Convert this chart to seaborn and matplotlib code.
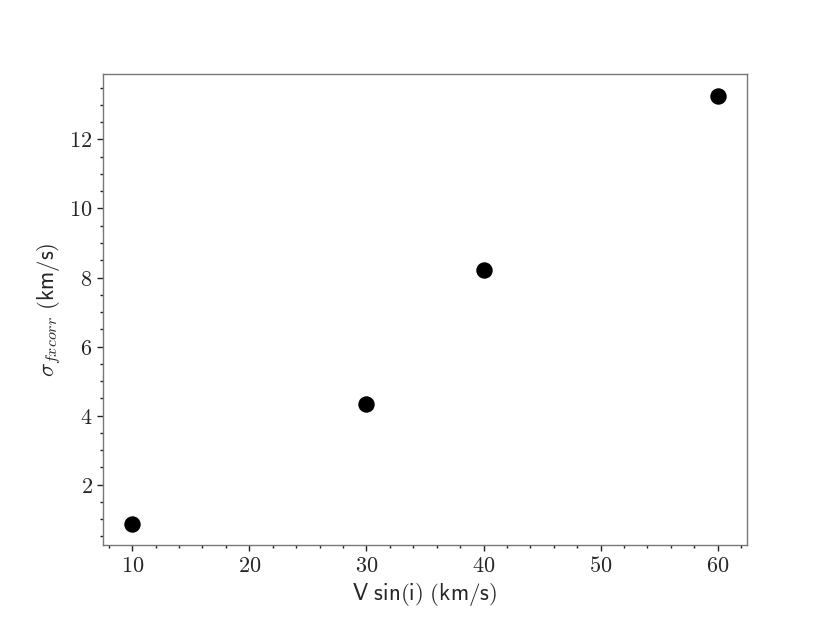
import matplotlib
matplotlib.use("Agg")
import matplotlib.pyplot as plt
import seaborn as sns
import pandas as pd
from matplotlib.ticker import MultipleLocator, FuncFormatter

vsini = [10, 30, 40, 60]
sigma = [0.87, 4.33, 8.22, 13.27]

sns.set_style("ticks")
plt.rcParams['font.family'] = ['DejaVu Sans']
plt.rcParams['mathtext.fontset'] = 'cm'

df = pd.DataFrame({"vsini": vsini, "sigma": sigma})

fig = plt.figure(figsize=(8.3, 6.23), dpi=100)
ax = fig.add_axes([0.124, 0.125, 0.776, 0.756])
sns.scatterplot(data=df, x="vsini", y="sigma", ax=ax, color="black",
                s=140, edgecolor="black", linewidth=0)

ax.xaxis.set_major_locator(MultipleLocator(10))
ax.xaxis.set_minor_locator(MultipleLocator(2))
ax.yaxis.set_major_locator(MultipleLocator(2))
ax.yaxis.set_minor_locator(MultipleLocator(0.5))
fmt = FuncFormatter(lambda v, p: f"${v:g}$")
ax.xaxis.set_major_formatter(fmt)
ax.yaxis.set_major_formatter(fmt)
ax.tick_params(which="major", length=4, width=1, color="#222222", labelsize=16, direction="out")
ax.tick_params(which="minor", length=2.5, width=1, color="#222222", direction="out")

for sp in ax.spines.values():
    sp.set_visible(True)
    sp.set_color("#777777")
    sp.set_linewidth(1)

ax.set_xlabel(r"$\mathsf{V\ sin(i)\ (km/s)}$", fontsize=16.5)
ax.set_ylabel(r"$\sigma_{fxcorr}\ \mathsf{(km/s)}$", fontsize=16.5)

fig.savefig("out.png", dpi=100)
